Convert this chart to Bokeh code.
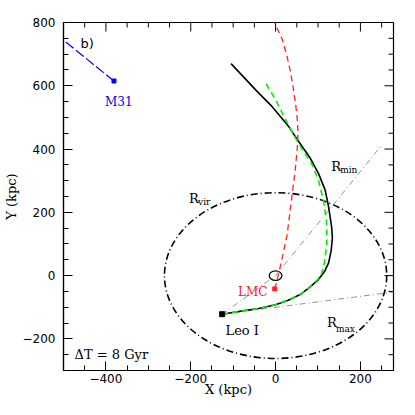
import math
from bokeh.plotting import figure
from bokeh.models import FixedTicker, Label, Range1d
from bokeh.embed import file_html
from bokeh.resources import INLINE

# ---------------- data ----------------
X_RANGE = (-500, 278)
Y_RANGE = (-300, 800)
x_major = [-400, -200, 0, 200]
x_minor = [-500, -450, -350, -300, -250, -150, -100, -50, 50, 100, 150, 250]
y_major = [-200, 0, 200, 400, 600, 800]
y_minor = [-300, -250, -150, -100, -50, 50, 100, 150, 250, 300, 350, 450, 500, 550, 650, 700, 750]
x_tick_labels = {-400: "\u2212400", -200: "\u2212200", 0: "0", 200: "200"}
y_tick_labels = {-200: "\u2212200", 0: "0", 200: "200", 400: "400", 600: "600", 800: "800"}

leo_x, leo_y = -126, -122
lmc_x, lmc_y = -2, -42
m31_x, m31_y = -381, 615
r_vir = 262
disk_r = 15

# Leo I orbit (black solid)
orbit_x = [-126, -80, -40, 0, 30, 58, 80, 100, 115, 125, 131, 134, 132, 125, 117, 101, 80, 51, 31, -8, -47, -105]
orbit_y = [-122, -112, -104, -92, -78, -60, -37, -14, 12, 40, 79, 120, 155, 217, 270, 323, 375, 430, 471, 534, 587, 670]

# Leo I orbit, alternative (green dashed)
alt_x = [-126, -80, -40, 0, 30, 58, 80, 98, 107, 115, 119, 121, 120, 113, 101, 86, 66, 48, 30, 0, -23]
alt_y = [-122, -112, -104, -92, -78, -60, -37, -14, 0, 40, 80, 111, 175, 238, 301, 352, 392, 432, 476, 556, 608]

# LMC orbit (red dashed)
lmc_orb_x = [-2, 8, 16, 27, 39, 46, 51, 53, 51, 47, 41, 35, 27, 16, 4, -2]
lmc_orb_y = [-42, 10, 58, 127, 255, 330, 400, 450, 497, 545, 598, 645, 693, 746, 781, 800]

# M31 track (blue dashed)
m31_trk_x = [-381, -520]
m31_trk_y = [615, 766]

# thin reference lines
rmin_x = [0, 249]
rmin_y = [0, 410]
leo_mw_x = [-126, 0]
leo_mw_y = [-122, 0]
rmax_x = [-126, 290]
rmax_y = [-122, -50]

# ---------------- figure ----------------
p = figure(width=399, height=399,
           x_range=Range1d(*X_RANGE), y_range=Range1d(*Y_RANGE),
           output_backend="svg", toolbar_location=None,
           min_border_left=57, min_border_right=6,
           min_border_top=22, min_border_bottom=29,
           x_axis_label="X (kpc)", y_axis_label="Y (kpc)")
p.grid.visible = False
p.outline_line_color = "black"
p.outline_line_width = 1.2
p.background_fill_color = "white"
p.border_fill_color = "white"

TICK_FONT = "DejaVu Sans"
SERIF = "DejaVu Serif"


def style_axis(ax, major, minor, overrides, tick_standoff, label_standoff, label_size):
    ax.ticker = FixedTicker(ticks=major, minor_ticks=minor)
    ax.major_tick_in = 9
    ax.major_tick_out = 0
    ax.minor_tick_in = 5
    ax.minor_tick_out = 0
    ax.axis_line_color = "black"
    ax.axis_line_width = 1.2
    ax.major_tick_line_color = "black"
    ax.minor_tick_line_color = "black"
    ax.major_tick_line_width = 1
    ax.minor_tick_line_width = 1
    ax.major_label_overrides = overrides
    ax.major_label_text_font = TICK_FONT
    ax.major_label_text_font_size = "12px"
    ax.major_label_text_color = "black"
    ax.major_label_standoff = tick_standoff
    ax.axis_label_text_font = SERIF
    ax.axis_label_text_font_style = "normal"
    ax.axis_label_text_font_size = label_size
    ax.axis_label_text_color = "black"
    ax.axis_label_standoff = label_standoff


style_axis(p.xaxis[0], x_major, x_minor, x_tick_labels, 3, -4, "13px")
style_axis(p.yaxis[0], y_major, y_minor, y_tick_labels, 8, 1, "13px")

# inward ticks on the top and right frame edges (half of each dash is clipped by the frame)
p.scatter(x_major, [Y_RANGE[1]] * len(x_major), marker="dash", size=18, angle=math.pi / 2,
          line_color="black", line_width=1)
p.scatter(x_minor, [Y_RANGE[1]] * len(x_minor), marker="dash", size=10, angle=math.pi / 2,
          line_color="black", line_width=1)
p.scatter([X_RANGE[1]] * len(y_major), y_major, marker="dash", size=18,
          line_color="black", line_width=1)
p.scatter([X_RANGE[1]] * len(y_minor), y_minor, marker="dash", size=10,
          line_color="black", line_width=1)

# ---------------- glyphs ----------------
p.ellipse(x=[0], y=[0], width=[2 * r_vir], height=[2 * r_vir],
          fill_color=None, line_color="black", line_width=1.6, line_dash="7 3 1 3")
p.ellipse(x=[0], y=[0], width=[2 * disk_r], height=[2 * disk_r],
          fill_color=None, line_color="black", line_width=1.2)

p.line(rmin_x, rmin_y, line_color="#777777", line_width=0.8, line_dash="6 3 1 3")
p.line(leo_mw_x, leo_mw_y, line_color="#777777", line_width=0.8, line_dash="6 3 1 3")
p.line(rmax_x, rmax_y, line_color="#777777", line_width=0.8, line_dash="6 3 1 3")

p.line(orbit_x, orbit_y, line_color="black", line_width=1.6)
p.line(alt_x, alt_y, line_color="#00ee00", line_width=1.6, line_dash="6 4")
p.line(lmc_orb_x, lmc_orb_y, line_color="#ff2020", line_width=1.3, line_dash="6 4")
p.line(m31_trk_x, m31_trk_y, line_color="blue", line_width=1.2, line_dash="10 3")

p.scatter([leo_x], [leo_y], marker="square", size=5, color="black")
p.scatter([lmc_x], [lmc_y], marker="square", size=4, color="#ff2020")
p.scatter([m31_x], [m31_y], marker="square", size=4, color="blue")


def add_label(x, y, text, size="12px", color="black", font=SERIF, align="left",
              baseline="alphabetic", x_off=0, y_off=0):
    p.add_layout(Label(x=x, y=y, text=text, text_font=font, text_font_size=size,
                       text_color=color, text_align=align, text_baseline=baseline,
                       x_offset=x_off, y_offset=y_off))


add_label(-460, 733, "b)", size="13px", font=TICK_FONT)
add_label(-402, 550, "M31", size="12px", color="blue")
add_label(-19, -53, "LMC", size="12px", color="#ff2020", align="right")
add_label(-118, -175, "Leo  I", size="13px")
add_label(-474, -251, "\u0394T = 8 Gyr", size="13px")

# R_vir, R_min, R_max with subscripts
add_label(-204, 244, "R", size="13px")
add_label(-204, 244, "vir", size="9px", x_off=9, y_off=-4)
add_label(131, 346, "R", size="13px")
add_label(131, 346, "min", size="9px", x_off=9, y_off=-4)
add_label(121, -148, "R", size="13px")
add_label(121, -148, "max", size="9px", x_off=9, y_off=-7)

open("out.html", "w").write(file_html(p, INLINE))
